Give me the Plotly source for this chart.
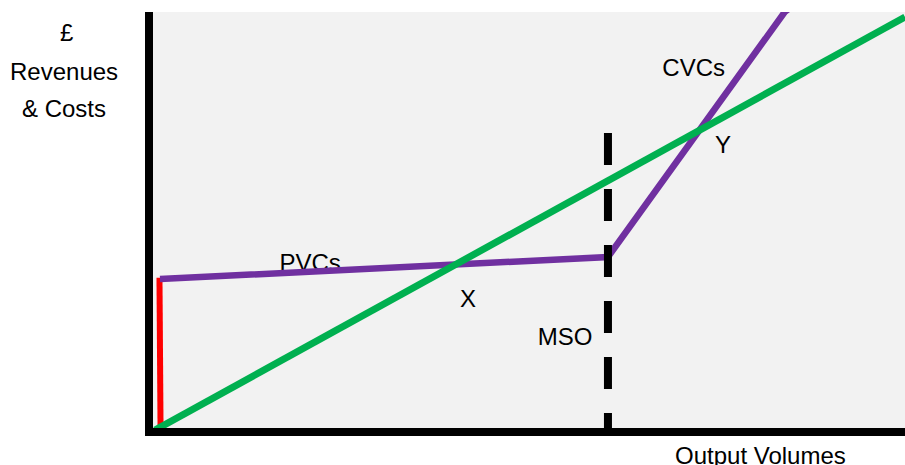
import plotly.graph_objects as go

# Chart values (in chart units: x 0-100 output, y 0-100 revenues & costs)
red_x = [0.86, 1.0]
red_y = [36.1, 0.7]

pvc_cvc_x = [0.93, 60.5, 84.0, 89.0]
pvc_cvc_y = [35.8, 41.1, 100.0, 107.0]

revenue_x = [0.27, 100.0]
revenue_y = [-0.5, 98.8]

mso_x = [60.5, 60.5]
mso_y = [70.9, 0.0]

label_text = ["PVCs", "X", "MSO", "CVCs", "Y"]
label_x = [20.9, 41.9, 54.8, 71.9, 75.8]
label_y = [39.3, 30.5, 21.4, 86.1, 67.5]

FONT = "Liberation Sans"
FS = 24

fig = go.Figure()

fig.add_trace(go.Scatter(
    x=label_x, y=label_y, text=label_text, mode="text",
    textposition="middle center",
    textfont=dict(family=FONT, size=FS, color="#000000"),
    hoverinfo="skip", showlegend=False))

fig.add_trace(go.Scatter(x=red_x, y=red_y, mode="lines",
                         line=dict(color="#ff0000", width=6), showlegend=False))
fig.add_trace(go.Scatter(x=pvc_cvc_x, y=pvc_cvc_y, mode="lines",
                         line=dict(color="#7030a0", width=6.5), showlegend=False))
fig.add_trace(go.Scatter(x=revenue_x, y=revenue_y, mode="lines",
                         line=dict(color="#00b050", width=7), showlegend=False))
fig.add_trace(go.Scatter(x=mso_x, y=mso_y, mode="lines",
                         line=dict(color="#000000", width=8, dash="32px,24px"),
                         showlegend=False))

W, H = 905, 465
L, R, T, B = 153, 0, 12, 37
pw, ph = W - L - R, H - T - B


def px(x):
    return (x - L) / pw


def py(y):
    return (H - B - y) / ph


annos = [
    ("£", 66, 32),
    ("Revenues", 64, 71),
    ("&amp; Costs", 64, 109),
    ("Output Volumes", 760, 455),
]
for t, x, y in annos:
    fig.add_annotation(text=t, x=px(x), y=py(y), xref="paper", yref="paper",
                       showarrow=False, xanchor="center", yanchor="middle",
                       font=dict(family=FONT, size=FS, color="#000000"))

axis_common = dict(range=[0, 100], showgrid=False, zeroline=False,
                   showticklabels=False, ticks="", showline=True,
                   linewidth=8, linecolor="#000000", fixedrange=True)

fig.update_layout(
    width=W, height=H,
    margin=dict(l=L, r=R, t=T, b=B, pad=0),
    paper_bgcolor="#ffffff",
    plot_bgcolor="#f2f2f2",
    xaxis=axis_common,
    yaxis=axis_common,
    showlegend=False,
)

fig.write_html("out.html",
               config={"displayModeBar": False, "staticPlot": True},
               post_script="document.body.style.margin='0';document.body.style.padding='0';document.body.style.overflow='hidden';")
